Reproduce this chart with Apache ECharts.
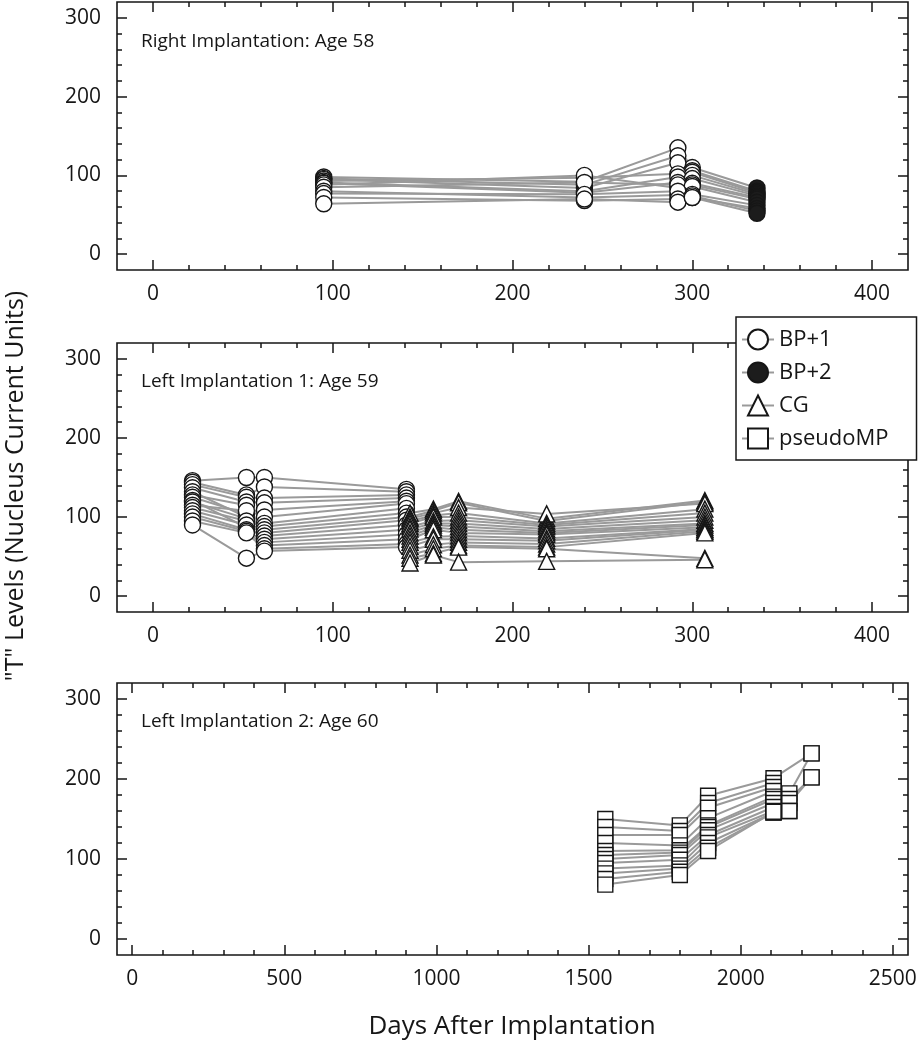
<!DOCTYPE html>
<html><head><meta charset="utf-8">
<script src="https://cdn.jsdelivr.net/npm/echarts@6/dist/echarts.min.js"></script>
<style>html,body{margin:0;padding:0;background:#fff}#c{width:921px;height:1050px}</style>
</head><body><div id="c"></div>
<script>
const FONT = '"Open Sans", "Noto Sans", sans-serif';
const legendNames = ['BP+1', 'BP+2', 'CG', 'pseudoMP'];
const panelTitles = ['Right Implantation: Age 58', 'Left Implantation 1: Age 59', 'Left Implantation 2: Age 60'];
const yTitle = '"T" Levels (Nucleus Current Units)';
const xTitle = 'Days After Implantation';

const yMajorTicks = [0, 100, 200, 300];
const yMinorTicks = [0, 20, 40, 60, 80, 100, 120, 140, 160, 180, 200, 220, 240, 260, 280, 300];
const xMajorTicksA = [0, 100, 200, 300, 400];
const xMinorTicksA = [0, 20, 40, 60, 80, 100, 120, 140, 160, 180, 200, 220, 240, 260, 280, 300, 320, 340, 360, 380, 400];
const xMajorTicksB = [0, 500, 1000, 1500, 2000, 2500];
const xMinorTicksB = [0, 100, 200, 300, 400, 500, 600, 700, 800, 900, 1000, 1100, 1200, 1300, 1400, 1500, 1600, 1700, 1800, 1900, 2000, 2100, 2200, 2300, 2400, 2500];

// Panel 1: Right implantation
const topDays = [95, 240, 292, 300, 336];
const topMarkers = ['BP+1', 'BP+1', 'BP+1', 'BP+1', 'BP+2'];
const topValues = [
  [98, 92, 135, 110, 84], [96, 88, 125, 106, 80], [95, 84, 116, 104, 78], [93, 97, 102, 100, 76],
  [91, 80, 98, 96, 74], [90, 78, 91, 90, 72], [88, 100, 84, 88, 70], [85, 91, 88, 86, 66],
  [80, 72, 75, 76, 62], [77, 76, 80, 72, 58], [72, 68, 70, 74, 55], [64, 70, 66, 72, 52]
];

// Panel 2: Left implantation 1
const midDays = [22, 52, 62, 141, 143, 156, 170, 219, 307];
const midMarkers = ['BP+1', 'BP+1', 'BP+1', 'BP+1', 'CG', 'CG', 'CG', 'CG', 'CG'];
const midValues = [
  [146, 150, 150, 135, 105, 110, 120, 98, 121], [144, 128, 138, 132, 100, 108, 118, 95, 119],
  [141, 125, 124, 128, 98, 105, 112, 104, 117], [137, 119, 118, 124, 95, 102, 105, 92, 110],
  [132, 100, 109, 120, 92, 100, 100, 90, 105], [128, 115, 100, 117, 88, 95, 96, 88, 100],
  [125, 104, 92, 111, 85, 92, 92, 85, 96], [121, 87, 88, 105, 80, 90, 88, 82, 92],
  [119, 98, 84, 100, 76, 87, 84, 80, 90], [115, 108, 80, 96, 72, 84, 80, 78, 87],
  [112, 95, 76, 90, 68, 75, 76, 73, 85], [108, 90, 72, 84, 63, 72, 72, 70, 84],
  [104, 84, 68, 78, 58, 65, 68, 66, 82], [100, 82, 64, 72, 52, 60, 64, 62, 80],
  [95, 80, 60, 66, 48, 54, 62, 60, 48], [90, 48, 57, 62, 42, 52, 43, 44, 46]
];

// Panel 3: Left implantation 2
const botDays = [1555, 1800, 1893, 2108, 2160, 2233];
const botMarkers = ['pseudoMP', 'pseudoMP', 'pseudoMP', 'pseudoMP', 'pseudoMP', 'pseudoMP'];
const botValues = [
  [150, 142, 179, 201, null, 232], [140, 135, 170, 195, 182, 232], [130, 130, 164, 190, 175, 202],
  [120, 117, 151, 185, 170, 202], [110, 111, 142, 178, 160, null], [105, 108, 140, 175, null, null],
  [100, 105, 136, 170, null, null], [95, 99, 130, 165, 160, null], [88, 92, 127, 160, null, null],
  [82, 88, 120, 158, null, null], [75, 84, 114, 158, null, null], [68, 80, 110, 159, null, null]
];

const markerStyle = {
  'BP+1': { symbol: 'circle', fill: '#ffffff', size: 16 },
  'BP+2': { symbol: 'circle', fill: '#1c1c1c', size: 16 },
  'CG': { symbol: 'triangle', fill: '#ffffff', size: 16 },
  'pseudoMP': { symbol: 'rect', fill: '#ffffff', size: 15 }
};

const panels = [
  { days: topDays, marks: topMarkers, values: topValues, xMin: -20, xMax: 420, xMajor: xMajorTicksA, xMinor: xMinorTicksA,
    grid: { left: 117, top: 2, width: 791, height: 268 }, titleTop: 27 },
  { days: midDays, marks: midMarkers, values: midValues, xMin: -20, xMax: 420, xMajor: xMajorTicksA, xMinor: xMinorTicksA,
    grid: { left: 117, top: 343, width: 791, height: 269 }, titleTop: 367 },
  { days: botDays, marks: botMarkers, values: botValues, xMin: -50, xMax: 2550, xMajor: xMajorTicksB, xMinor: xMinorTicksB,
    grid: { left: 117, top: 683, width: 791, height: 272 }, titleTop: 707 }
];

const grids = [], xAxes = [], yAxes = [], series = [], titles = [];
const INK = '#161616';
const plain = v => String(v);

function tickAxis(gi, pos, min, max, ticks, len) {
  return {
    type: 'value', gridIndex: gi, position: pos, min: min, max: max,
    axisLine: { show: false, onZero: false },
    axisTick: { show: true, inside: true, length: len, customValues: ticks, lineStyle: { color: INK, width: 1.5 } },
    axisLabel: { show: false },
    splitLine: { show: false }
  };
}

panels.forEach((p, gi) => {
  grids.push(Object.assign({ show: true, borderColor: INK, borderWidth: 1.6, backgroundColor: 'transparent' }, p.grid));
  titles.push({ text: panelTitles[gi], left: 136, top: p.titleTop,
    textStyle: { fontFamily: FONT, fontSize: 19, fontWeight: 'normal', color: INK } });

  const mainX = xAxes.length;
  xAxes.push({
    type: 'value', gridIndex: gi, position: 'bottom', min: p.xMin, max: p.xMax,
    axisLine: { show: false, onZero: false },
    axisTick: { show: true, inside: true, length: 5, customValues: p.xMinor, lineStyle: { color: INK, width: 1.5 } },
    axisLabel: { show: true, customValues: p.xMajor, formatter: plain, margin: 14, fontFamily: FONT, fontSize: 21, color: INK },
    splitLine: { show: false }
  });
  xAxes.push(tickAxis(gi, 'bottom', p.xMin, p.xMax, p.xMajor, 10));
  xAxes.push(tickAxis(gi, 'top', p.xMin, p.xMax, p.xMinor, 5));
  xAxes.push(tickAxis(gi, 'top', p.xMin, p.xMax, p.xMajor, 10));

  const mainY = yAxes.length;
  yAxes.push({
    type: 'value', gridIndex: gi, position: 'left', min: -20, max: 320,
    axisLine: { show: false, onZero: false },
    axisTick: { show: true, inside: true, length: 5, customValues: yMinorTicks, lineStyle: { color: INK, width: 1.5 } },
    axisLabel: { show: true, customValues: yMajorTicks, formatter: plain, margin: 16, fontFamily: FONT, fontSize: 21, color: INK },
    splitLine: { show: false }
  });
  yAxes.push(tickAxis(gi, 'left', -20, 320, yMajorTicks, 10));
  yAxes.push(tickAxis(gi, 'right', -20, 320, yMinorTicks, 5));
  yAxes.push(tickAxis(gi, 'right', -20, 320, yMajorTicks, 10));

  // electrode lines
  p.values.forEach((row) => {
    const pts = [];
    row.forEach((v, j) => { if (v !== null) pts.push([p.days[j], v]); });
    series.push({
      type: 'line', xAxisIndex: mainX, yAxisIndex: mainY, data: pts, symbol: 'none', silent: true,
      lineStyle: { color: '#9a9a9a', width: 2 }, z: 2, animation: false
    });
  });

  // markers per type
  legendNames.forEach((name) => {
    const pts = [];
    p.values.forEach((row) => {
      row.forEach((v, j) => { if (v !== null && p.marks[j] === name) pts.push([p.days[j], v]); });
    });
    if (!pts.length) return;
    const ms = markerStyle[name];
    series.push({
      type: 'line', name: name, xAxisIndex: mainX, yAxisIndex: mainY, data: pts,
      symbol: ms.symbol, symbolSize: ms.size, showSymbol: true, showAllSymbol: true,
      itemStyle: { color: ms.fill, borderColor: INK, borderWidth: 1.4 },
      lineStyle: { color: '#9a9a9a', width: 0 }, z: 3, animation: false
    });
  });
});

const chart = echarts.init(document.getElementById('c'), null, { renderer: 'canvas' });
chart.setOption({
  animation: false,
  backgroundColor: '#ffffff',
  title: titles,
  grid: grids,
  xAxis: xAxes,
  yAxis: yAxes,
  series: series,
  legend: {
    data: legendNames.map(n => ({ name: n })),
    orient: 'vertical', left: 736, top: 317,
    padding: [10, 28, 9, 5], itemGap: 8, itemWidth: 32, itemHeight: 25,
    backgroundColor: '#ffffff', borderColor: INK, borderWidth: 1.5, borderRadius: 0,
    selectedMode: false,
    lineStyle: { width: 2, color: '#9a9a9a' },
    textStyle: { fontFamily: FONT, fontSize: 22, color: INK, lineHeight: 25 },
    z: 10
  },
  graphic: [
    { type: 'text', x: 16, y: 486, rotation: Math.PI / 2,
      style: { text: yTitle, fontFamily: FONT, fontSize: 25, fill: INK, align: 'center', verticalAlign: 'middle' } },
    { type: 'text', x: 512, y: 1027,
      style: { text: xTitle, fontFamily: FONT, fontSize: 26, fill: INK, align: 'center', verticalAlign: 'middle' } }
  ]
});
</script>
</body></html>
